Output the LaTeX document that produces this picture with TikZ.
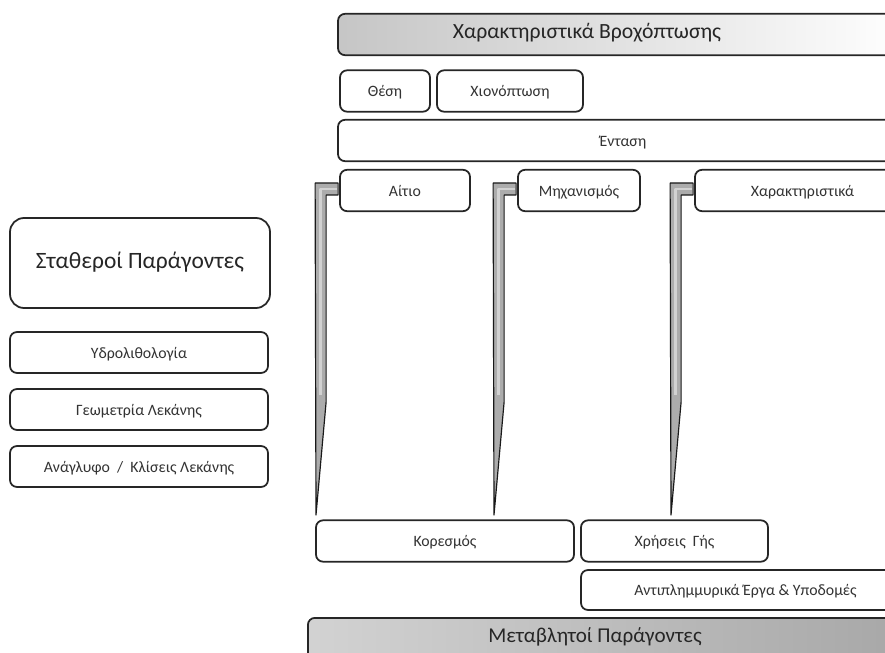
\documentclass[tikz,border=0pt]{standalone}
\usepackage{fontspec}
\usetikzlibrary{calc}
\setmainfont{Carlito}
\begin{document}
\begin{tikzpicture}[x=0.03cm,y=-0.03cm,
  box/.style={draw=black!85,line width=1.5pt,rounded corners=6pt,fill=white,text=black!80,
    font=\fontsize{13.5}{15}\selectfont,minimum height=1.24cm,inner sep=0pt,
    text height=1em,text depth=0.05em},
  bigtext/.style={text=black!85,font=\fontsize{18.5}{22}\selectfont},
  conn/.style={draw=black!90,line width=1pt,fill=gray!65,line join=round},
  shine/.style={draw=gray!35,line width=2pt,line join=round}]
\useasboundingbox (0,0) rectangle (885,653);
\clip (0,0) rectangle (885,653);

% rainfall side
\node[box,minimum width=17.16cm,left color=gray!45,middle color=white,right color=white] (rain bar) at (624,34.5) {};
\node[bigtext] (rain title) at (587,33) {Χαρακτηριστικά Βροχόπτωσης};
\node[box,minimum width=2.7cm] (thesi) at (385,91) {Θέση};
\node[box,minimum width=4.38cm] (snow) at (510,91) {Χιονόπτωση};
\node[box,minimum width=17.1cm] (entasi) at (623,140.5) {Ένταση};
\node[box,minimum width=3.9cm] (aitio) at (405,190.5) {Αίτιο};
\node[box,minimum width=3.66cm] (mech) at (579,190.5) {Μηχανισμός};
\node[box,minimum width=6.45cm] (feat) at (802.5,190.5) {Χαρακτηριστικά};

\foreach \n/\x in {aitio/316,mech/494,feat/671}{
  \coordinate (\n tip) at (\x,515);
  \draw[conn] ($(\n.west)+(-1,-7.5)$) -- ($(\n.west)+(-24,-7.5)$) -- (\n tip)
    -- ($(\n.west)+(-13,211.5)$) -- ($(\n.west)+(-13,4.5)$) -- ($(\n.west)+(-1,4.5)$) -- cycle;
  \draw[shine] ($(\n.west)+(-2,-1.5)$) -- ($(\n.west)+(-18.5,-1.5)$) -- ($(\n.west)+(-18.5,205)$);
}

% fixed factors
\node[box,bigtext,rounded corners=12pt,minimum width=7.8cm,minimum height=2.7cm,font=\fontsize{20}{24}\selectfont] (fixed) at (140,263) {Σταθεροί Παράγοντες};
\node[box,minimum width=7.74cm,minimum height=1.23cm] (hydro) at (139,352.5) {Υδρολιθολογία};
\node[box,minimum width=7.74cm,minimum height=1.23cm] (geom) at (139,409.5) {Γεωμετρία Λεκάνης};
\node[box,minimum width=7.74cm,minimum height=1.23cm] (relief) at (139,466.5) {Ανάγλυφο \ / \ Κλίσεις Λεκάνης};

% variable factors
\node[box,minimum width=7.74cm] (koresmos) at (445,541) {Κορεσμός};
\node[box,minimum width=5.61cm] (landuse) at (674.5,541) {Χρήσεις \ Γής};
\node[box,minimum width=9.87cm,minimum height=1.2cm] (works) at (745.5,590) {Αντιπλημμυρικά Έργα \& Υποδομές};
\node[box,minimum width=18.6cm,minimum height=2.4cm,anchor=north west,left color=gray!35,right color=gray!70] (var bar) at (307,617) {};
\node[bigtext,font=\fontsize{18}{22}\selectfont] (var title) at (595,637) {Μεταβλητοί Παράγοντες};
\end{tikzpicture}
\end{document}
